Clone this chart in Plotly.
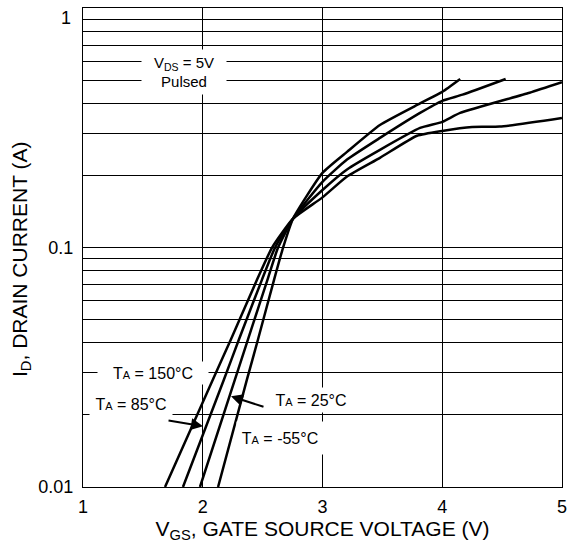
import plotly.graph_objects as go

# ---- data ----
vgs_150 = [1.685, 2.086, 2.236, 2.454, 2.579, 2.754, 3.00, 3.205, 3.48, 3.79, 4.00, 4.25, 4.48, 5.00]
id_150 = [0.0100, 0.0282, 0.0414, 0.0735, 0.100, 0.132, 0.162, 0.198, 0.237, 0.293, 0.307, 0.319, 0.320, 0.348]

vgs_85 = [1.835, 2.178, 2.303, 2.495, 2.604, 2.754, 3.00, 3.205, 3.48, 3.815, 4.00, 4.15, 4.73, 5.00]
id_85 = [0.0100, 0.0282, 0.0414, 0.0735, 0.100, 0.132, 0.174, 0.212, 0.256, 0.316, 0.335, 0.365, 0.443, 0.490]

vgs_25 = [1.977, 2.270, 2.378, 2.541, 2.629, 2.754, 3.00, 3.205, 3.48, 3.815, 4.00, 4.17, 4.53]
id_25 = [0.0100, 0.0282, 0.0414, 0.0735, 0.100, 0.132, 0.188, 0.233, 0.287, 0.365, 0.410, 0.435, 0.506]

vgs_m55 = [2.128, 2.370, 2.462, 2.596, 2.671, 2.754, 3.00, 3.205, 3.48, 3.815, 4.00, 4.15]
id_m55 = [0.0100, 0.0282, 0.0414, 0.0735, 0.100, 0.132, 0.205, 0.251, 0.325, 0.400, 0.447, 0.506]

x_ticks = [1, 2, 3, 4, 5]
x_tick_labels = ["1", "2", "3", "4", "5"]
y_grid = [0.01, 0.02, 0.03, 0.04, 0.05, 0.06, 0.07, 0.08, 0.09,
          0.1, 0.2, 0.3, 0.4, 0.5, 0.6, 0.7, 0.8, 0.9, 1]
y_grid_labels = ["0.01", "", "", "", "", "", "", "", "",
                 "0.1", "", "", "", "", "", "", "", "", ""]
y_top_label = "1"

FONT = "Liberation Sans, Arial, sans-serif"

fig = go.Figure()
for xs, ys in [(vgs_150, id_150), (vgs_85, id_85), (vgs_25, id_25), (vgs_m55, id_m55)]:
    fig.add_trace(go.Scatter(x=xs, y=ys, mode="lines",
                             line=dict(color="black", width=2.5, shape="spline", smoothing=0.5),
                             showlegend=False, hoverinfo="skip"))

ta = "T<span style='font-size:11px'>A</span>"
ann_font = dict(family=FONT, size=16, color="black")
vds_font = dict(family=FONT, size=15, color="black")
annotations = [
    dict(x=1.844, y=-0.267, xref="x", yref="y", text="V<sub>DS</sub> = 5V<br>Pulsed",
         showarrow=False, bgcolor="white", width=82, height=42, font=vds_font),
    dict(x=1.581, y=-1.525, xref="x", yref="y", text=ta + " = 150°C",
         showarrow=False, bgcolor="white", width=108, height=20, font=ann_font),
    dict(x=1.405, y=-1.654, xref="x", yref="y", text=ta + " = 85°C",
         showarrow=False, bgcolor="white", width=80, height=22, font=ann_font),
    dict(x=2.9, y=-1.6375, xref="x", yref="y", text=ta + " = 25°C",
         showarrow=False, bgcolor="white", width=80, height=22, font=ann_font),
    dict(x=2.646, y=-1.796, xref="x", yref="y", text=ta + " = -55°C",
         showarrow=False, bgcolor="white", width=84, height=30, font=ann_font),
    dict(x=2.0025, y=-1.746, xref="x", yref="y", text="", showarrow=True,
         ax=-36, ay=-6, arrowhead=2, arrowsize=1.2, arrowwidth=2, arrowcolor="black"),
    dict(x=2.236, y=-1.621, xref="x", yref="y", text="", showarrow=True,
         ax=34, ay=11, arrowhead=2, arrowsize=1.2, arrowwidth=2, arrowcolor="black"),
    dict(x=0, y=1, xref="paper", yref="paper", text=y_top_label, showarrow=False,
         xanchor="right", yanchor="top", xshift=-10, yshift=2,
         font=dict(family=FONT, size=18, color="black")),
    dict(x=-0.1294, y=0.474, xref="paper", yref="paper",
         text="I<sub>D</sub>, DRAIN CURRENT (A)", textangle=-90, showarrow=False,
         xanchor="center", yanchor="middle",
         font=dict(family=FONT, size=21, color="black")),
]

axis_common = dict(showgrid=True, gridcolor="black", gridwidth=1, automargin=False,
                   showline=True, mirror=True, linecolor="black", linewidth=1,
                   zeroline=False, ticks="", tickfont=dict(family=FONT, size=18, color="black"))

fig.update_layout(
    width=572, height=546,
    margin=dict(l=83, r=10, t=8, b=59),
    paper_bgcolor="white", plot_bgcolor="white",
    font=dict(family=FONT, size=18, color="black"),
    xaxis=dict(range=[1, 5.0005], tickvals=x_ticks, ticktext=x_tick_labels,
               ticklabelstandoff=3,
               title=dict(text="V<sub>GS</sub>, GATE SOURCE VOLTAGE (V)",
                          font=dict(family=FONT, size=21, color="black"), standoff=0),
               **axis_common),
    yaxis=dict(type="log", range=[-2, 0.0005], tickvals=y_grid, ticktext=y_grid_labels,
               ticklabelstandoff=5,
               **axis_common),
    annotations=annotations,
)

fig.write_html("out.html", config={"displayModeBar": False},
               post_script="document.body.style.margin='0';")
